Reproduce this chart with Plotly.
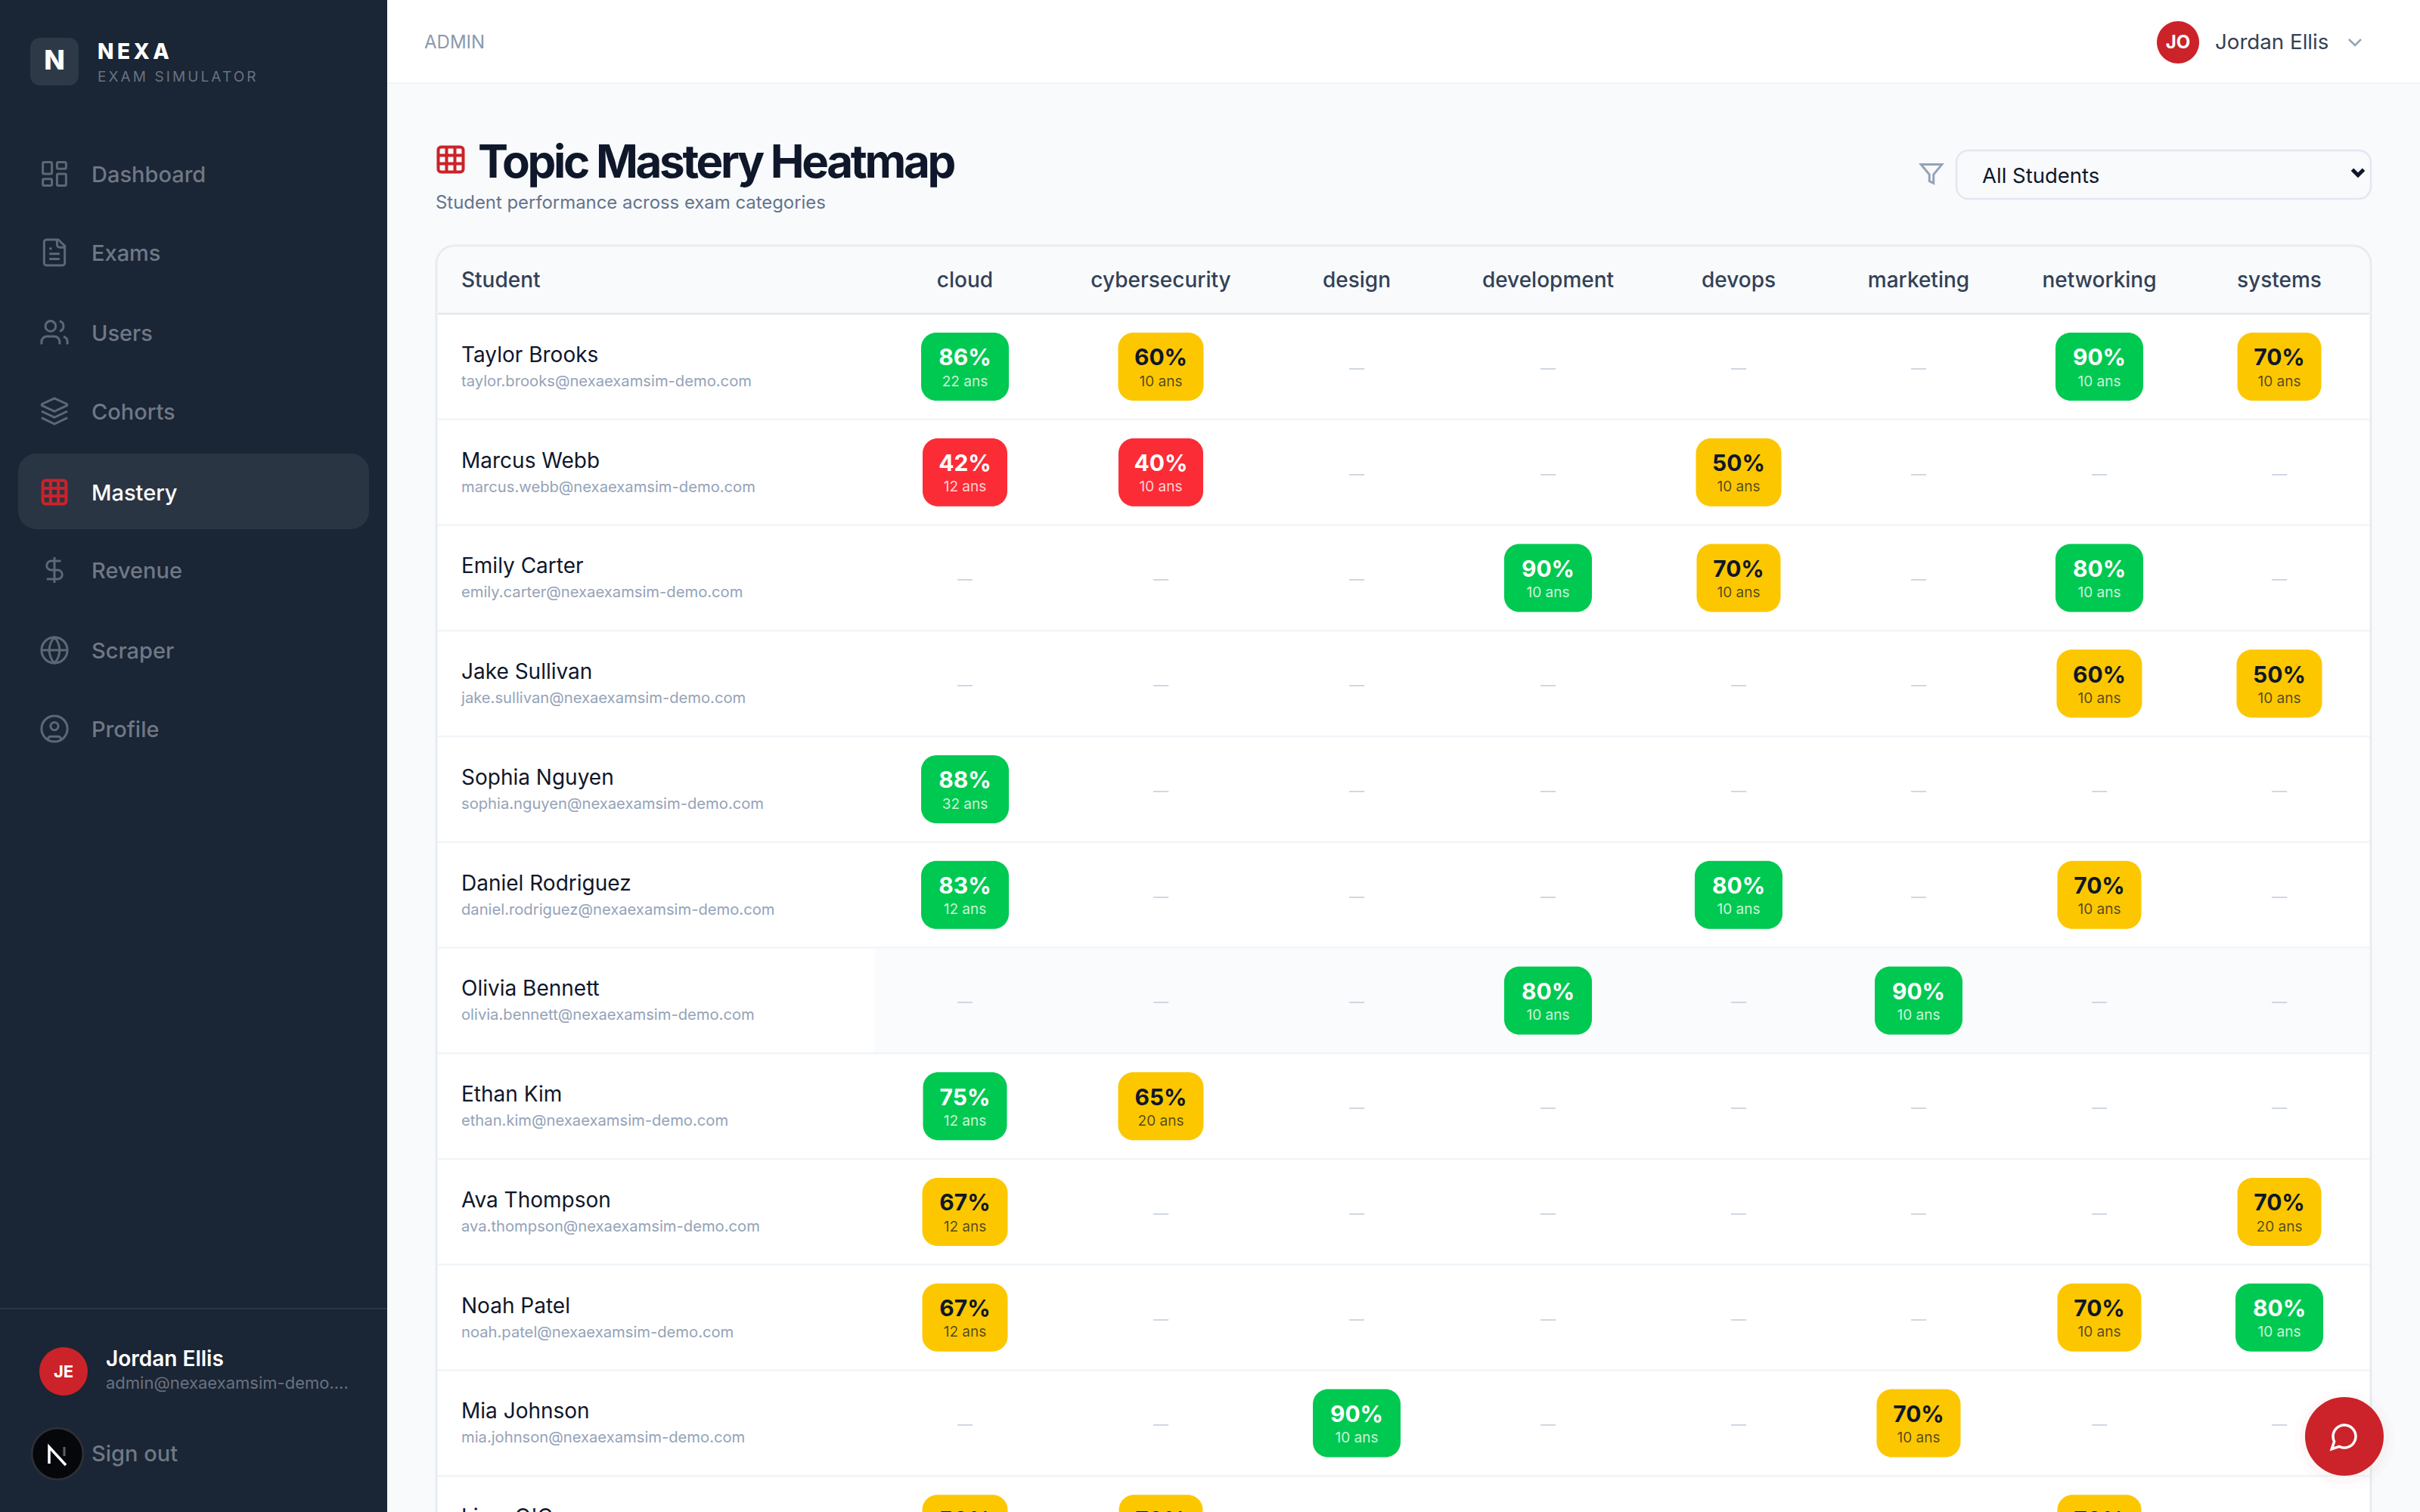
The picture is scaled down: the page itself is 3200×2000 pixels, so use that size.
import math
import re
import plotly.graph_objects as go

# data
topics = ["cloud", "cybersecurity", "design", "development", "devops", "marketing", "networking", "systems"]
students = ["Taylor Brooks", "Marcus Webb", "Emily Carter", "Jake Sullivan", "Sophia Nguyen", "Daniel Rodriguez",
            "Olivia Bennett", "Ethan Kim", "Ava Thompson", "Noah Patel", "Mia Johnson", "Liam O'Connor"]
emails = ["taylor.brooks@nexaexamsim-demo.com", "marcus.webb@nexaexamsim-demo.com", "emily.carter@nexaexamsim-demo.com",
          "jake.sullivan@nexaexamsim-demo.com", "sophia.nguyen@nexaexamsim-demo.com", "daniel.rodriguez@nexaexamsim-demo.com",
          "olivia.bennett@nexaexamsim-demo.com", "ethan.kim@nexaexamsim-demo.com", "ava.thompson@nexaexamsim-demo.com",
          "noah.patel@nexaexamsim-demo.com", "mia.johnson@nexaexamsim-demo.com", "liam.oconnor@nexaexamsim-demo.com"]
mastery = [
    [86, 60, None, None, None, None, 90, 70],
    [42, 40, None, None, 50, None, None, None],
    [None, None, None, 90, 70, None, 80, None],
    [None, None, None, None, None, None, 60, 50],
    [88, None, None, None, None, None, None, None],
    [83, None, None, None, 80, None, 70, None],
    [None, None, None, 80, None, 90, None, None],
    [75, 65, None, None, None, None, None, None],
    [67, None, None, None, None, None, None, 70],
    [67, None, None, None, None, None, 70, 80],
    [None, None, 90, None, None, 70, None, None],
    [50, 70, None, None, None, None, 70, None],
]
answers = [
    [22, 10, None, None, None, None, 10, 10],
    [12, 10, None, None, 10, None, None, None],
    [None, None, None, 10, 10, None, 10, None],
    [None, None, None, None, None, None, 10, 10],
    [32, None, None, None, None, None, None, None],
    [12, None, None, None, 10, None, 10, None],
    [None, None, None, 10, None, 10, None, None],
    [12, 20, None, None, None, None, None, None],
    [12, None, None, None, None, None, None, 20],
    [12, None, None, None, None, None, 10, 10],
    [None, None, 10, None, None, 10, None, None],
    [10, 10, None, None, None, None, 10, None],
]
nav_items = ["Dashboard", "Exams", "Users", "Cohorts", "Mastery", "Revenue", "Scraper", "Profile"]

# page layout, in screen pixels
col_x = [1276, 1535, 1794, 2047, 2299, 2537, 2776, 3014]
row_top = 415
row_h = 139.75
nav_y = [231, 335, 441, 545, 652, 755, 861, 965]
badge_w = {"4": 112, "5": 113, "6": 113, "7": 111, "8": 116, "9": 116}

FONT = "Inter"
RED = "#cc2229"
NAV_GREY = "#6f7885"
ICON_GREY = "#5d6775"


def rr(x, y, w, h, r):
    k = r * 0.45
    return (f"M{x+r} {y} L{x+w-r} {y} C{x+w-k} {y} {x+w} {y+k} {x+w} {y+r} L{x+w} {y+h-r} "
            f"C{x+w} {y+h-k} {x+w-k} {y+h} {x+w-r} {y+h} L{x+r} {y+h} C{x+k} {y+h} {x} {y+h-k} {x} {y+h-r} "
            f"L{x} {y+r} C{x} {y+k} {x+k} {y} {x+r} {y} Z")


def circ(cx, cy, r):
    return rr(cx - r, cy - r, 2 * r, 2 * r, r)


def speech_path():
    pts = []
    for i in range(41):
        a = math.radians(117 + i * (360 - 36) / 40 * -1)
        pts.append(f"{12 + 9 * math.cos(a):.2f} {12 + 9 * math.sin(a):.2f}")
    return "M" + " L".join(pts) + " L2 22 Z"


ICONS = {
    "Dashboard": [rr(3, 3, 7, 9, 1), rr(14, 3, 7, 5, 1), rr(14, 12, 7, 9, 1), rr(3, 16, 7, 5, 1)],
    "Exams": ["M15 2 L6 2 C4.9 2 4 2.9 4 4 L4 20 C4 21.1 4.9 22 6 22 L18 22 C19.1 22 20 21.1 20 20 L20 7 Z",
              "M14 2 L14 6 C14 7.1 14.9 8 16 8 L20 8", "M10 9 L8 9", "M16 13 L8 13", "M16 17 L8 17"],
    "Users": ["M16 21 L16 19 C16 16.8 14.2 15 12 15 L6 15 C3.8 15 2 16.8 2 19 L2 21", circ(9, 7, 4),
              "M22 21 L22 19 C22 17.2 20.8 15.6 19 15.1", "M16 3.1 C17.8 3.6 19 5.2 19 7 C19 8.8 17.8 10.4 16 10.9"],
    "Cohorts": ["M12 2 L2.6 6.3 C2 6.6 2 7.4 2.6 7.7 L12 12 L21.4 7.7 C22 7.4 22 6.6 21.4 6.3 Z",
                "M2 12 L12 16.8 L22 12", "M2 17 L12 21.8 L22 17"],
    "Mastery": [rr(3, 3, 18, 18, 2), "M9 3 L9 21", "M15 3 L15 21", "M3 9 L21 9", "M3 15 L21 15"],
    "Revenue": ["M12 2 L12 22", "M17 5 L9.5 5 C7.6 5 6 6.6 6 8.5 C6 10.4 7.6 12 9.5 12 L14.5 12 C16.4 12 18 13.6 18 15.5 C18 17.4 16.4 19 14.5 19 L6 19"],
    "Scraper": [circ(12, 12, 10), "M12 2 C6.7 7.6 6.7 16.4 12 22 C17.3 16.4 17.3 7.6 12 2 Z", "M2 12 L22 12"],
    "Profile": [circ(12, 12, 10), circ(12, 10, 3), "M7 20.7 L7 20 C7 18.9 7.9 18 9 18 L15 18 C16.1 18 17 18.9 17 20 L17 20.7"],
    "filter": ["M22 3 L2 3 L10 12.5 L10 19 L14 21 L14 12.5 Z"],
    "chevron": ["M6 9 L12 15 L18 9"],
    "chat": [speech_path()],
}

fig = go.Figure()
shapes = []


def box(x0, y0, x1, y1, fill, r=0, line=None, lw=0):
    shapes.append(dict(type="path", path=rr(x0, y0, x1 - x0, y1 - y0, r), fillcolor=fill, layer="below",
                       line=dict(color=line or fill, width=lw), xref="x", yref="y"))


def disc(cx, cy, r, fill, line=None, lw=0):
    shapes.append(dict(type="path", path=circ(cx, cy, r), fillcolor=fill, layer="below",
                       line=dict(color=line or fill, width=lw), xref="x", yref="y"))


def hline(x0, x1, y, color, lw=2):
    shapes.append(dict(type="line", x0=x0, x1=x1, y0=y, y1=y, layer="below", line=dict(color=color, width=lw), xref="x", yref="y"))


def stroke(d, color, lw):
    shapes.append(dict(type="path", path=d, layer="below", line=dict(color=color, width=lw), xref="x", yref="y"))


def icon(name, cx, cy, size, color, lw=3):
    s = size / 24
    for d in ICONS[name]:
        nums = iter(range(10000))

        def place(m):
            v = float(m.group())
            return f"{(cx + (v - 12) * s) if next(nums) % 2 == 0 else (cy + (v - 12) * s):.2f}"
        stroke(re.sub(r"-?\d+\.?\d*", place, d), color, lw)


def label(x, y, text, size, color, weight=400, pos="middle right"):
    fig.add_trace(go.Scatter(x=[x], y=[y], text=[text], mode="text", textposition=pos, cliponaxis=True, hoverinfo="skip",
                             textfont=dict(family=FONT, size=size, color=color, weight=weight)))


# page background pieces
box(0, 0, 512, 2000, "#1a2535")
box(512, 0, 3200, 109, "#ffffff")
hline(512, 3200, 110, "#f1f5f9")

# sidebar
box(40, 50, 104, 113, "#2e3948", r=13)
label(72, 83, "N", 36, "#ffffff", 800, "middle center")
label(129, 71, "NEXA", 28, "#ffffff", 800)
label(129, 103, "EXAM SIMULATOR", 19, "#69727f")
box(24, 600, 488, 700, "#2a3544", r=24)
for name, y in zip(nav_items, nav_y):
    active = name == "Mastery"
    icon(name, 72, y - 1, 41, RED if active else ICON_GREY, 4 if active else 3)
    label(121, y + 3, name, 29, "#ffffff" if active else NAV_GREY, 500)
hline(0, 512, 1731, "#2a3544")
disc(84, 1814, 32, RED)
label(84, 1816, "JE", 22, "#ffffff", 700, "middle center")
label(140, 1800, "Jordan Ellis", 28, "#ffffff", 600)
label(140, 1831, "admin@nexaexamsim-demo....", 22, "#69727f")
disc(76, 1923, 34, "#05070a", line="#2b2f36", lw=3)
stroke("M65 1936 L65 1914 L87 1938", "#ffffff", 3.5)
stroke("M85 1914 L85 1926", "#5c5f66", 3)
label(121, 1926, "Sign out", 29, NAV_GREY, 500)

# top bar
label(561, 58, "ADMIN", 24, "#8b99ac")
disc(2880, 56, 28, RED)
label(2880, 58, "JO", 24, "#ffffff", 700, "middle center")
label(2929, 58, "Jordan Ellis", 27.7, "#334155", 400)
icon("chevron", 3114, 56, 32, "#94a3b8", 2.5)

# heading
icon("Mastery", 596, 211, 44, RED, 4)
label(632, 220, "Topic Mastery Heatmap", 60, "#0f172a", 700)
label(576, 270, "Student performance across exam categories", 23.9, "#64748b")
icon("filter", 2554, 230, 33, "#94a3b8")
box(2587, 199, 3135, 263, "#f8fafc", r=16, line="#e2e8f0", lw=2.5)
label(2621, 235, "All Students", 27.5, "#0f172a", 400)
icon("chevron", 3118, 228, 30, "#0f172a", 5)

# table card
box(577, 325, 3135, 2040, "#ffffff", r=24, line="#e8ecf1", lw=3)
shapes.append(dict(type="path", path="M579 415 L579 349 C579 335 590 327 603 327 L3109 327 C3122 327 3133 335 3133 349 L3133 415 Z",
                   fillcolor="#f8fafc", layer="below", line=dict(width=0), xref="x", yref="y"))
hline(579, 3133, 415, "#e2e8f0", 2.5)
label(610, 373, "Student", 28, "#334155", 500)
for topic, x in zip(topics, col_x):
    label(x, 373, topic, 28, "#334155", 500, "middle center")

for i in range(len(students)):
    top = row_top + i * row_h
    if students[i] == "Olivia Bennett":
        box(1156, top + 1, 3133, top + row_h - 1, "#fafbfd")
    hline(579, 3133, top + row_h, "#f1f5f9", 2.5)


def badge_style(pct):
    # colour bands of the heatmap
    if pct >= 75:
        return "#00c951", "#ffffff", "rgba(255,255,255,0.8)"
    if pct >= 50:
        return "#fdc700", "#0f172a", "rgba(15,23,42,0.72)"
    return "#fb2c36", "#ffffff", "rgba(255,255,255,0.8)"


names_y = [row_top + (i + 0.5) * row_h - 13 for i in range(len(students))]
email_y = [row_top + (i + 0.5) * row_h + 21 for i in range(len(students))]
fig.add_trace(go.Scatter(x=[610] * len(students), y=names_y, text=students, mode="text", textposition="middle right",
                         hoverinfo="skip", textfont=dict(family=FONT, size=28, color="#0f172a", weight=400)))
fig.add_trace(go.Scatter(x=[610] * len(emails), y=email_y, text=emails, mode="text", textposition="middle right",
                         hoverinfo="skip", textfont=dict(family=FONT, size=20.2, color="#94a3b8")))

dash_x, dash_y = [], []
for i, row in enumerate(mastery):
    cy = row_top + (i + 0.5) * row_h
    for j, pct in enumerate(row):
        x = col_x[j]
        if pct is None:
            dash_x.append(x)
            dash_y.append(cy + 4)
            continue
        fill, main, sub = badge_style(pct)
        w = badge_w[str(pct)[0]]
        box(x - w / 2, cy - 45, x + w / 2, cy + 45, fill, r=20)
        label(x, cy - 9, f"{pct}%", 30, main, 700, "middle center")
        label(x, cy + 21, f"{answers[i][j]} ans", 19, sub, 400, "middle center")

fig.add_trace(go.Scatter(x=dash_x, y=dash_y, text=["—"] * len(dash_x), mode="text", textposition="middle center",
                         hoverinfo="skip", textfont=dict(family=FONT, size=20, color="#cbd5e1")))

# chat button
disc(3100, 1904, 66, "rgba(204,34,41,0.015)")
disc(3100, 1904, 59, "rgba(204,34,41,0.02)")
disc(3100, 1900, 52, RED)
icon("chat", 3100, 1900, 40, "#ffffff", 3.5)

fig.update_layout(
    width=3200, height=2000, margin=dict(l=0, r=0, t=0, b=0), showlegend=False, hovermode=False,
    paper_bgcolor="#f8fafc", plot_bgcolor="rgba(0,0,0,0)", shapes=shapes,
    xaxis=dict(range=[0, 3200], visible=False, fixedrange=True),
    yaxis=dict(range=[2000, 0], visible=False, fixedrange=True),
)

tweak = """
document.documentElement.style.overflow = 'hidden';
document.body.style.margin = '0';
var spacing = {'Topic Mastery Heatmap': '-3.3px', 'NEXA': '4.5px', 'EXAM SIMULATOR': '3.1px'};
document.querySelectorAll('text').forEach(function (t) {
    if (spacing[t.textContent]) { t.style.letterSpacing = spacing[t.textContent]; }
});
"""
fig.write_html("out.html", config={"displayModeBar": False}, post_script=tweak)
